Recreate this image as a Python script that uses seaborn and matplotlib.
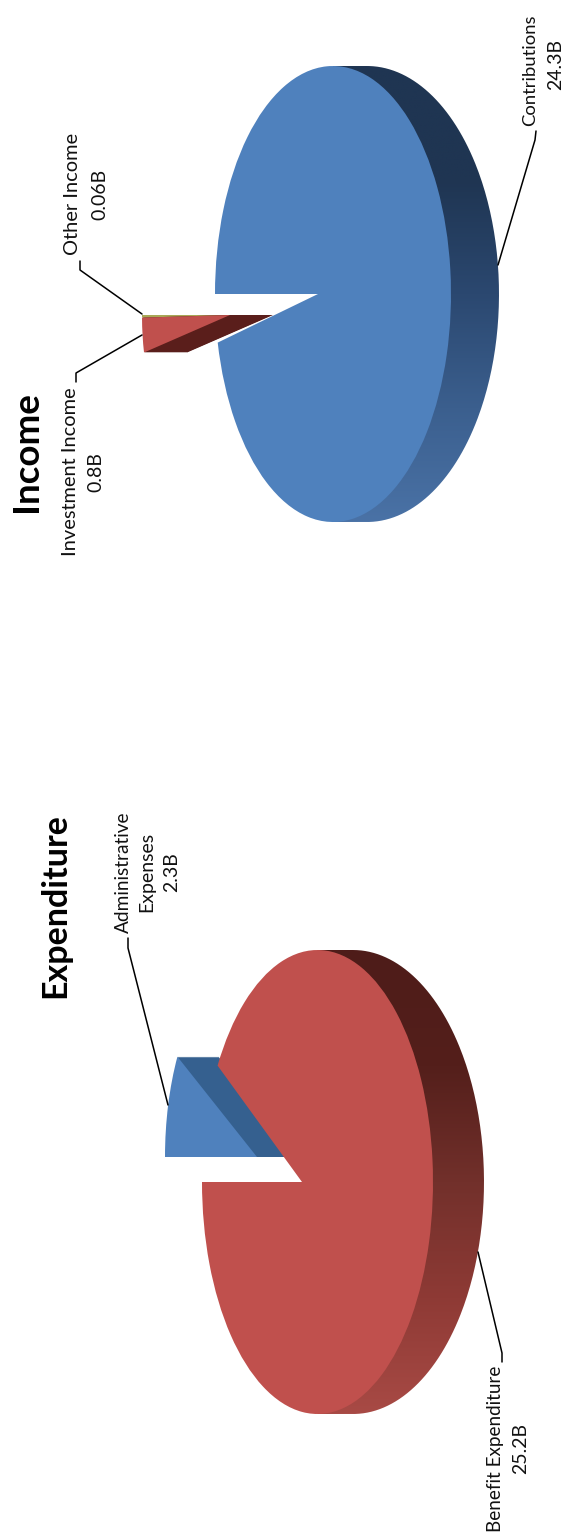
import numpy as np
import matplotlib
matplotlib.use("Agg")
import matplotlib.pyplot as plt
import seaborn as sns
from matplotlib.path import Path
from matplotlib.patches import PathPatch
from matplotlib.colors import LinearSegmentedColormap

W, H = 568, 1538

# data (billions)
income_names = ["Other Income", "Investment Income", "Contributions"]
income_values = [0.06, 0.8, 24.3]
expend_names = ["Administrative Expenses", "Benefit Expenditure"]
expend_values = [2.3, 25.2]

# colours
BLUE, RED, OLIVE = "#4F81BD", "#C0504D", "#A8A856"
income_colors = [OLIVE, RED, BLUE]
income_sides = ["#5A1E1B", "#5A1E1B", "#1F3552"]
expend_colors = [BLUE, RED]
expend_sides = ["#35608F", "#5A1E1B"]
blue_ramp = ["#4A72A6", "#3B5F8E", "#2B4870", "#1F3552", "#1F3552"]
red_ramp = ["#A84A45", "#8E3A35", "#72302B", "#541F1B", "#4E1C19"]

sns.set_theme(style="white")
plt.rcParams["font.family"] = ["Lato", "DejaVu Sans"]

fig = plt.figure(figsize=(W / 100, H / 100), dpi=100, facecolor="white")
NOEDGE = {"linewidth": 0, "edgecolor": "none"}


def unit_axes(cx, cy, rx, ry):
    """Transparent full-figure axes where one data unit is rx by ry pixels."""
    ax = fig.add_axes([0, 0, 1, 1])
    ax.patch.set_alpha(0)
    ax._lims = ((0 - cx) / rx, (W - cx) / rx), ((cy - H) / ry, cy / ry)
    return ax


def finish(ax):
    ax.set_aspect("auto")
    ax.set_xlim(*ax._lims[0])
    ax.set_ylim(*ax._lims[1])
    ax.axis("off")


def small_slices(values, faces, sides, idx_hidden, start, ccw, cx, cy, rx, ry, depth):
    ax = unit_axes(cx, cy, rx, ry)
    for off in np.arange(depth, 0, -1.0):
        wedges, _ = ax.pie(values, colors=sides, startangle=start, counterclock=ccw,
                           center=(off / rx, 0), radius=1, frame=True, wedgeprops=NOEDGE)
        wedges[idx_hidden].set_visible(False)
    wedges, _ = ax.pie(values, colors=faces, startangle=start, counterclock=ccw,
                       center=(0, 0), radius=1, frame=True, wedgeprops=NOEDGE)
    wedges[idx_hidden].set_visible(False)
    finish(ax)


def main_slice(values, faces, idx, start, ccw, cx, cy, rx, ry, apex_x, outer_cx, outer_rx, ramp):
    ax = unit_axes(cx, cy, rx, ry)
    # rim with a vertical gradient, clipped to the sweep of the right half
    t = np.linspace(-np.pi / 2, np.pi / 2, 200)
    ox = (outer_cx - cx) / rx
    k = outer_rx / rx
    vx = np.r_[0, ox + k * np.cos(t), 0]
    vy = np.r_[-1, np.sin(t), 1]
    rim = Path(np.column_stack([vx, vy]))
    grad = np.linspace(0, 1, 256).reshape(-1, 1)
    cmap = LinearSegmentedColormap.from_list("rim", ramp)
    im = ax.imshow(grad, cmap=cmap, origin="lower", aspect="auto",
                   extent=(-0.1, ox + k + 0.1, -1, 1), zorder=1)
    im.set_clip_path(rim, transform=ax.transData)
    # top face: the library's wedge, with its apex pulled back for perspective
    wedges, _ = ax.pie(values, colors=faces, startangle=start, counterclock=ccw,
                       radius=1, frame=True, wedgeprops=NOEDGE)
    for i, w in enumerate(wedges):
        if i == idx:
            p = w.get_path()
            v = w.get_patch_transform().transform(p.vertices).copy()
            v[np.hypot(v[:, 0], v[:, 1]) < 0.01, 0] = (apex_x - cx) / rx
            ax.add_patch(PathPatch(Path(v, p.codes), fc=w.get_facecolor(), ec="none", zorder=2))
        w.set_visible(False)
    finish(ax)


# Income
small_slices(income_values, income_colors, income_sides, 2, 180, True,
             230, 315, 88, 176, 43)
main_slice(income_values, income_colors, 2, 180, True,
           333, 294, 118, 228, 318, 367, 132, blue_ramp)

# Expenditure
small_slices(expend_values, expend_colors, expend_sides, 1, 180, False,
             257, 1157, 92, 200, 41)
main_slice(expend_values, expend_colors, 1, 180, False,
           317.5, 1182, 115.5, 232, 302, 353, 131, red_ramp)

# Text and leader lines, in pixel coordinates
top = fig.add_axes([0, 0, 1, 1])
top.patch.set_alpha(0)
top.set_xlim(0, W)
top.set_ylim(H, 0)
top.axis("off")

LS = 14.0


def rot(x, y, s, size=LS, weight="normal"):
    top.text(x, y, s, rotation=90, ha="center", va="center", fontsize=size,
             fontweight=weight, color="#111111" if weight == "normal" else "black")


rot(26, 452, "Income", 26.5, "bold")
rot(55, 906, "Expenditure", 24.5, "bold")

rot(73, 194, income_names[0], 14.4)
rot(100, 194, f"{income_values[0]}B")
rot(70, 472, income_names[1], 14.4)
rot(96, 472, f"{income_values[1]}B")
rot(530, 70, income_names[2], 13.3)
rot(556, 65, f"{income_values[2]}B")

admin_a, admin_b = expend_names[0].split()
rot(123, 872, admin_a, 13.7)
rot(147, 872, admin_b)
rot(172, 872, f"{expend_values[0]}B")
rot(496, 1449, expend_names[1], 13.6)
rot(521, 1449, f"{expend_values[1]}B")

leaders = [
    ([80, 80, 142], [261, 270, 314]),
    ([142, 76, 76], [335, 373, 382]),
    ([498, 535, 536], [265, 140, 131]),
    ([128, 128, 168], [938, 948, 1105]),
    ([478, 502, 502], [1252, 1353, 1362]),
]
for xs, ys in leaders:
    top.plot(xs, ys, color="black", lw=1.1, solid_joinstyle="round")

fig.savefig("out.png", dpi=100, facecolor="white")
